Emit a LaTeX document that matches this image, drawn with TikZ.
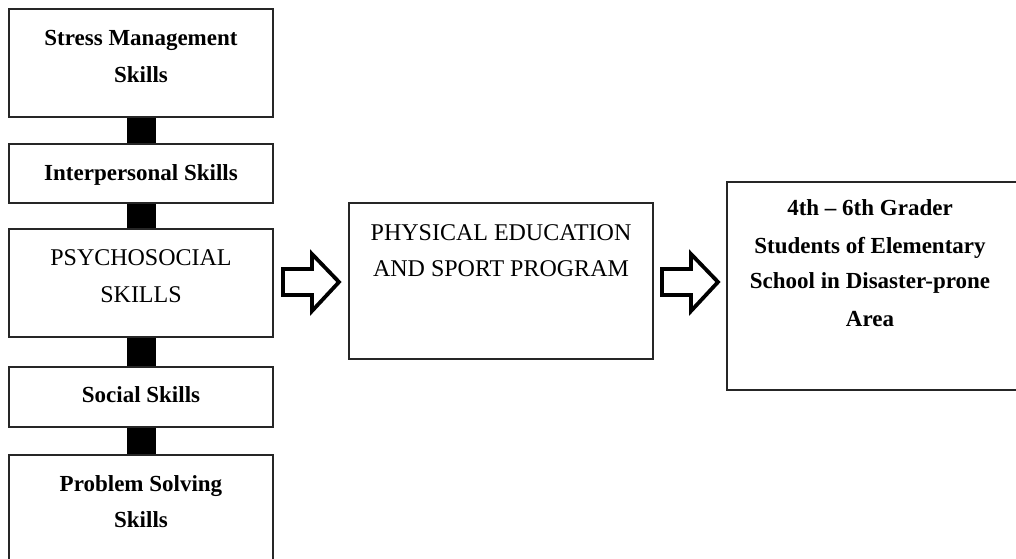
\documentclass[tikz,border=0pt]{standalone}
\usepackage{fontspec}
\setmainfont{Liberation Serif}
\begin{document}
\begin{tikzpicture}[x=1pt,y=-1pt,
  box/.style={draw=black!85,line width=1.8pt,rectangle,inner sep=0pt},
  btxt/.style={anchor=base,inner sep=0pt,font=\fontsize{23}{27}\selectfont\bfseries},
  rtxt/.style={anchor=base,inner sep=0pt,font=\fontsize{24}{28}\selectfont},
  link/.style={line width=29pt,black},
  hollow/.style={draw=black,line width=3.8pt,line join=miter,fill=white}]
\useasboundingbox (0,0) rectangle (1016,558);
\clip (0,0) rectangle (1016,558);
% left column boxes
\node[box,minimum width=264pt,minimum height=108pt] (b1) at (141,63) {};
\node[box,minimum width=264pt,minimum height=59pt] (b2) at (141,173.5) {};
\node[box,minimum width=264pt,minimum height=108pt] (b3) at (141,283) {};
\node[box,minimum width=264pt,minimum height=60pt] (b4) at (141,397) {};
\node[box,minimum width=264pt,minimum height=120pt] (b5) at (141,515) {};
% connectors
\draw[link] (b1.south) -- (b2.north);
\draw[link] (b2.south) -- (b3.north);
\draw[link] (b3.south) -- (b4.north);
\draw[link] (b4.south) -- (b5.north);
% texts left
\node[btxt] (t1a) at (141,45) {Stress Management};
\node[btxt] (t1b) at (141,82) {Skills};
\node[btxt] (t2) at (141,180) {Interpersonal Skills};
\node[rtxt] (t3a) at (141,265) {PSYCHOSOCIAL};
\node[rtxt] (t3b) at (141,302) {SKILLS};
\node[btxt] (t4) at (141,402) {Social Skills};
\node[btxt] (t5a) at (141,491) {Problem Solving};
\node[btxt] (t5b) at (141,527) {Skills};
% middle box
\node[box,minimum width=304pt,minimum height=156pt] (m) at (501,281) {};
\node[rtxt] (tma) at (501,240) {PHYSICAL EDUCATION};
\node[rtxt] (tmb) at (501,276) {AND SPORT PROGRAM};
% right box (runs past the right edge)
\node[box,minimum width=310pt,minimum height=208pt] (r) at (882,286) {};
\node[btxt] (tra) at (870,215) {4th -- 6th Grader};
\node[btxt] (trb) at (870,253) {Students of Elementary};
\node[btxt] (trc) at (870,288) {School in Disaster-prone};
\node[btxt] (trd) at (870,326) {Area};
% hollow arrows
\draw[hollow] (283,269) -- (312,269) -- (312,254) -- (339,282) -- (312,311) -- (312,295) -- (283,295) -- cycle;
\draw[hollow] (662,269) -- (691,269) -- (691,254) -- (718,282) -- (691,311) -- (691,295) -- (662,295) -- cycle;
\end{tikzpicture}
\end{document}
